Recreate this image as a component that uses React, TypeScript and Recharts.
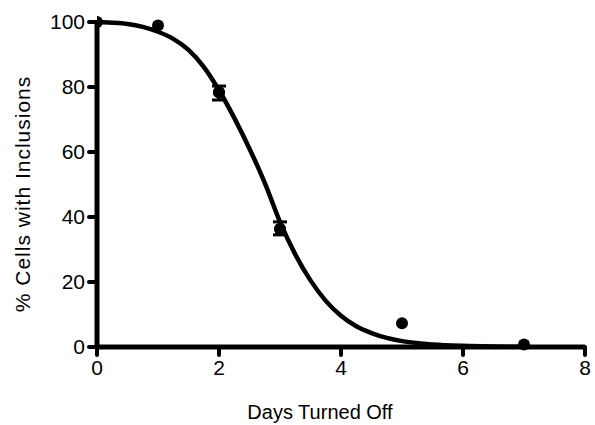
import React from 'react';
import { ComposedChart, Line, Scatter, XAxis, YAxis, ErrorBar, Label } from 'recharts';

// measured points
const days = [0, 1, 2, 3, 5, 7];
const pctCells = [100, 98.9, 78.4, 36.3, 7.3, 0.8];

// points that carry error bars (low / high offsets)
const errDays = [2, 3];
const errPct = [78.4, 36.3];
const errLow = [2.4, 1.8];
const errHigh = [1.9, 2.2];

// fitted curve
const curveDays = [0, 0.25, 0.5, 0.75, 1, 1.25, 1.5, 1.75, 2, 2.25, 2.5, 2.75, 3, 3.25, 3.5, 3.75, 4, 4.25, 4.5, 4.75, 5, 5.5, 6, 6.5, 7];
const curvePct = [100, 99.8, 99.4, 98.5, 97, 94.8, 91.4, 86.2, 79, 70.5, 61, 50.5, 38.5, 28.5, 20.5, 14.2, 9.6, 6.4, 4.3, 2.8, 1.8, 0.8, 0.35, 0.15, 0.07];

const xTicks = [0, 2, 4, 6, 8];
const yTicks = [0, 20, 40, 60, 80, 100];

const points = days.map((d, i) => ({ day: d, pct: pctCells[i] }));
const errPoints = errDays.map((d, i) => ({ day: d, pct: errPct[i], err: [errLow[i], errHigh[i]] }));
const curve = curveDays.map((d, i) => ({ day: d, fit: curvePct[i] }));

const font = '"Liberation Sans", Arial, Helvetica, sans-serif';

const Dot = (props: any) => <circle cx={props.cx} cy={props.cy} r={6} fill="#000" />;

export default function App() {
  return (
    <div style={{ position: 'absolute', left: 0, top: 0, width: 595, height: 425, background: '#fff' }}>
      <ComposedChart width={595} height={425} margin={{ top: 22, right: 10, left: 0, bottom: 0 }}>
        <XAxis
          type="number"
          dataKey="day"
          domain={[0, 8]}
          ticks={xTicks}
          allowDataOverflow
          height={78}
          stroke="#000"
          axisLine={{ stroke: '#000', strokeWidth: 5 }}
          tickLine={{ stroke: '#000', strokeWidth: 4, strokeLinecap: 'round' }}
          tickSize={8}
          tickMargin={5}
          tick={{ fill: '#000', fontSize: 21, fontFamily: font }}
        >
          <Label
            content={() => (
              <text x={320} y={419} textAnchor="middle" fill="#000" fontSize={20} fontFamily={font}>
                Days Turned Off
              </text>
            )}
          />
        </XAxis>
        <YAxis
          type="number"
          domain={[0, 100]}
          ticks={yTicks}
          width={97}
          stroke="#000"
          axisLine={{ stroke: '#000', strokeWidth: 5 }}
          tickLine={{ stroke: '#000', strokeWidth: 4, strokeLinecap: 'round' }}
          tickSize={8}
          tickMargin={4}
          tick={{ fill: '#000', fontSize: 21, fontFamily: font }}
        >
          <Label
            content={() => (
              <text
                x={30}
                y={194}
                textAnchor="middle"
                fill="#000"
                fontSize={21}
                letterSpacing={1}
                fontFamily={font}
                transform="rotate(-90 30 194)"
              >
                % Cells with Inclusions
              </text>
            )}
          />
        </YAxis>
        <Line
          data={curve}
          dataKey="fit"
          type="monotone"
          stroke="#000"
          strokeWidth={4.5}
          dot={false}
          isAnimationActive={false}
        />
        <Scatter data={errPoints} dataKey="pct" fill="#000" shape={Dot} isAnimationActive={false}>
          <ErrorBar dataKey="err" direction="y" width={7} stroke="#000" strokeWidth={3} isAnimationActive={false} />
        </Scatter>
        <Scatter data={points} dataKey="pct" fill="#000" shape={Dot} isAnimationActive={false} />
      </ComposedChart>
    </div>
  );
}
